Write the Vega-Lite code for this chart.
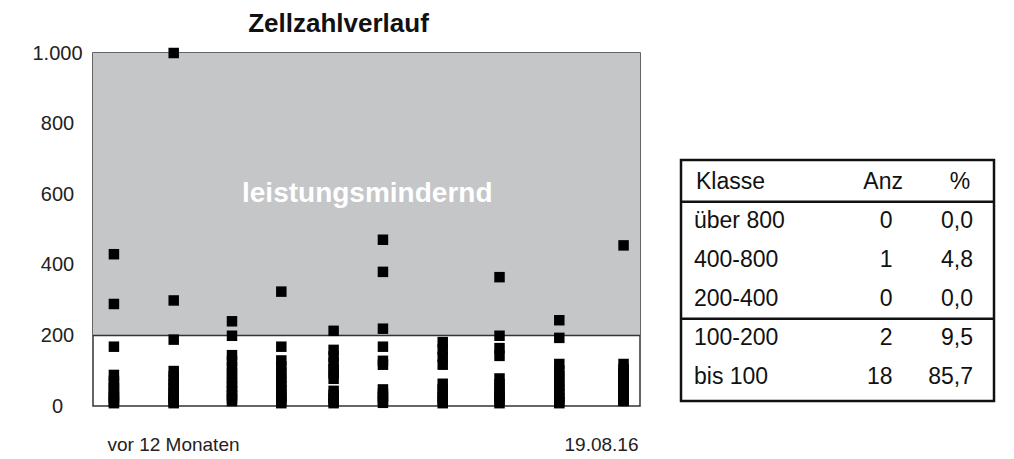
{
  "$schema": "https://vega.github.io/schema/vega-lite/v6.json",
  "padding": {"left": 31, "top": 10, "right": 5, "bottom": 5},
  "background": "white",
  "config": {"font": "Liberation Sans", "view": {"stroke": null}},
  "spacing": 36,
  "datasets": {
    "zone": [{"lo": 200, "hi": 1000, "label": "leistungsmindernd"}],
    "points": [
      {"date": "2015-09-02", "cells": 430}, {"date": "2015-09-02", "cells": 289}, {"date": "2015-09-02", "cells": 168},
      {"date": "2015-09-02", "cells": 88}, {"date": "2015-09-02", "cells": 71}, {"date": "2015-09-02", "cells": 63},
      {"date": "2015-09-02", "cells": 50}, {"date": "2015-09-02", "cells": 41}, {"date": "2015-09-02", "cells": 33},
      {"date": "2015-09-02", "cells": 25}, {"date": "2015-09-02", "cells": 18}, {"date": "2015-09-02", "cells": 12},
      {"date": "2015-09-02", "cells": 8},
      {"date": "2015-10-12", "cells": 1000}, {"date": "2015-10-12", "cells": 299}, {"date": "2015-10-12", "cells": 188},
      {"date": "2015-10-12", "cells": 99}, {"date": "2015-10-12", "cells": 84}, {"date": "2015-10-12", "cells": 72},
      {"date": "2015-10-12", "cells": 60}, {"date": "2015-10-12", "cells": 51}, {"date": "2015-10-12", "cells": 40},
      {"date": "2015-10-12", "cells": 32}, {"date": "2015-10-12", "cells": 24}, {"date": "2015-10-12", "cells": 17},
      {"date": "2015-10-12", "cells": 11}, {"date": "2015-10-12", "cells": 8},
      {"date": "2015-11-20", "cells": 240}, {"date": "2015-11-20", "cells": 199}, {"date": "2015-11-20", "cells": 144},
      {"date": "2015-11-20", "cells": 128}, {"date": "2015-11-20", "cells": 110}, {"date": "2015-11-20", "cells": 95},
      {"date": "2015-11-20", "cells": 80}, {"date": "2015-11-20", "cells": 66}, {"date": "2015-11-20", "cells": 54},
      {"date": "2015-11-20", "cells": 42}, {"date": "2015-11-20", "cells": 31}, {"date": "2015-11-20", "cells": 22},
      {"date": "2015-11-20", "cells": 14},
      {"date": "2015-12-23", "cells": 324}, {"date": "2015-12-23", "cells": 168}, {"date": "2015-12-23", "cells": 129},
      {"date": "2015-12-23", "cells": 112}, {"date": "2015-12-23", "cells": 96}, {"date": "2015-12-23", "cells": 81},
      {"date": "2015-12-23", "cells": 68}, {"date": "2015-12-23", "cells": 55}, {"date": "2015-12-23", "cells": 43},
      {"date": "2015-12-23", "cells": 33}, {"date": "2015-12-23", "cells": 24}, {"date": "2015-12-23", "cells": 15},
      {"date": "2015-12-23", "cells": 8},
      {"date": "2016-01-27", "cells": 213}, {"date": "2016-01-27", "cells": 159}, {"date": "2016-01-27", "cells": 140},
      {"date": "2016-01-27", "cells": 122}, {"date": "2016-01-27", "cells": 105}, {"date": "2016-01-27", "cells": 92},
      {"date": "2016-01-27", "cells": 77}, {"date": "2016-01-27", "cells": 43}, {"date": "2016-01-27", "cells": 31},
      {"date": "2016-01-27", "cells": 22}, {"date": "2016-01-27", "cells": 14}, {"date": "2016-01-27", "cells": 8},
      {"date": "2016-02-29", "cells": 471}, {"date": "2016-02-29", "cells": 380}, {"date": "2016-02-29", "cells": 219},
      {"date": "2016-02-29", "cells": 168}, {"date": "2016-02-29", "cells": 128}, {"date": "2016-02-29", "cells": 117},
      {"date": "2016-02-29", "cells": 47}, {"date": "2016-02-29", "cells": 35}, {"date": "2016-02-29", "cells": 26},
      {"date": "2016-02-29", "cells": 17}, {"date": "2016-02-29", "cells": 9},
      {"date": "2016-04-09", "cells": 181}, {"date": "2016-04-09", "cells": 160}, {"date": "2016-04-09", "cells": 139},
      {"date": "2016-04-09", "cells": 117}, {"date": "2016-04-09", "cells": 63}, {"date": "2016-04-09", "cells": 48},
      {"date": "2016-04-09", "cells": 36}, {"date": "2016-04-09", "cells": 25}, {"date": "2016-04-09", "cells": 16},
      {"date": "2016-04-09", "cells": 8},
      {"date": "2016-05-17", "cells": 365}, {"date": "2016-05-17", "cells": 199}, {"date": "2016-05-17", "cells": 164},
      {"date": "2016-05-17", "cells": 142}, {"date": "2016-05-17", "cells": 78}, {"date": "2016-05-17", "cells": 62},
      {"date": "2016-05-17", "cells": 49}, {"date": "2016-05-17", "cells": 37}, {"date": "2016-05-17", "cells": 27},
      {"date": "2016-05-17", "cells": 17}, {"date": "2016-05-17", "cells": 8},
      {"date": "2016-06-26", "cells": 243}, {"date": "2016-06-26", "cells": 193}, {"date": "2016-06-26", "cells": 119},
      {"date": "2016-06-26", "cells": 101}, {"date": "2016-06-26", "cells": 86}, {"date": "2016-06-26", "cells": 72},
      {"date": "2016-06-26", "cells": 58}, {"date": "2016-06-26", "cells": 45}, {"date": "2016-06-26", "cells": 33},
      {"date": "2016-06-26", "cells": 22}, {"date": "2016-06-26", "cells": 13}, {"date": "2016-06-26", "cells": 8},
      {"date": "2016-08-08", "cells": 455}, {"date": "2016-08-08", "cells": 119}, {"date": "2016-08-08", "cells": 105},
      {"date": "2016-08-08", "cells": 95}, {"date": "2016-08-08", "cells": 90}, {"date": "2016-08-08", "cells": 82},
      {"date": "2016-08-08", "cells": 76}, {"date": "2016-08-08", "cells": 70}, {"date": "2016-08-08", "cells": 63},
      {"date": "2016-08-08", "cells": 57}, {"date": "2016-08-08", "cells": 51}, {"date": "2016-08-08", "cells": 46},
      {"date": "2016-08-08", "cells": 41}, {"date": "2016-08-08", "cells": 36}, {"date": "2016-08-08", "cells": 31},
      {"date": "2016-08-08", "cells": 27}, {"date": "2016-08-08", "cells": 24}, {"date": "2016-08-08", "cells": 21},
      {"date": "2016-08-08", "cells": 18}, {"date": "2016-08-08", "cells": 16}, {"date": "2016-08-08", "cells": 14}
    ],
    "table": [
      {"row": 0, "klasse": "Klasse", "anz": "Anz", "pct": "%"},
      {"row": 1, "klasse": "über 800", "anz": "0", "pct": "0,0"},
      {"row": 2, "klasse": "400-800", "anz": "1", "pct": "4,8"},
      {"row": 3, "klasse": "200-400", "anz": "0", "pct": "0,0"},
      {"row": 4, "klasse": "100-200", "anz": "2", "pct": "9,5"},
      {"row": 5, "klasse": "bis 100", "anz": "18", "pct": "85,7"}
    ],
    "lines": [{"row": 1, "kind": "Kopf"}, {"row": 4, "kind": "Grenze 200"}]
  },
  "hconcat": [
    {
      "width": 547,
      "height": 353,
      "title": {"text": "Zellzahlverlauf", "fontSize": 26, "fontWeight": "bold", "color": "#111", "anchor": "middle", "dx": -28, "offset": 6},
      "view": {"stroke": "#333", "strokeWidth": 1.5},
      "layer": [
        {
          "data": {"name": "zone"},
          "mark": {"type": "rect", "color": "#c5c6c8"},
          "encoding": {
            "x": {"datum": {"year": 2015, "month": 8, "date": 19}, "type": "temporal"},
            "x2": {"datum": {"year": 2016, "month": 8, "date": 19}},
            "y": {"field": "lo", "type": "quantitative"},
            "y2": {"field": "hi"}
          }
        },
        {
          "data": {"name": "zone"},
          "mark": {"type": "rule", "color": "#333", "strokeWidth": 1.5},
          "encoding": {"y": {"field": "lo", "type": "quantitative"}}
        },
        {
          "data": {"name": "zone"},
          "mark": {"type": "text", "color": "white", "fontSize": 28, "fontWeight": "bold"},
          "encoding": {
            "x": {"datum": {"year": 2016, "month": 2, "date": 18, "hours": 12}, "type": "temporal"},
            "y": {"datum": 600, "type": "quantitative"},
            "text": {"field": "label"}
          }
        },
        {
          "data": {"name": "points"},
          "mark": {"type": "square", "size": 110, "color": "black", "opacity": 1},
          "encoding": {
            "x": {
              "field": "date", "type": "temporal",
              "scale": {"domain": [{"year": 2015, "month": 8, "date": 19}, {"year": 2016, "month": 8, "date": 19}]},
              "axis": {
                "title": null, "domain": false, "ticks": false, "tickSize": 0, "grid": false,
                "values": [{"year": 2015, "month": 8, "date": 19}, {"year": 2016, "month": 8, "date": 19}],
                "labelExpr": "year(datum.value) == 2015 ? 'vor 12 Monaten' : '19.08.16'",
                "labelFlush": false,
                "labelAlign": {"condition": {"test": "year(datum.value) == 2015", "value": "left"}, "value": "right"},
                "labelOffset": {"condition": {"test": "year(datum.value) == 2015", "value": 14}, "value": -2},
                "labelFontSize": 19, "labelColor": "#222", "labelPadding": 29
              }
            },
            "y": {
              "field": "cells", "type": "quantitative",
              "scale": {"domain": [0, 1000], "nice": false},
              "axis": {
                "title": null, "domain": false, "ticks": false, "tickSize": 0, "grid": false,
                "values": [0, 200, 400, 600, 800, 1000],
                "labelExpr": "datum.value == 1000 ? '1.000' : datum.label",
                "labelAlign": "center", "labelPadding": 36,
                "labelFontSize": 20, "labelColor": "#222"
              }
            }
          }
        }
      ]
    },
    {
      "spacing": 20,
      "vconcat": [
        {
          "width": 313,
          "height": 85,
          "data": {"values": []},
          "mark": "point"
        },
        {
          "width": 313,
          "height": 241,
          "view": {"stroke": "#111", "strokeWidth": 2.5},
          "data": {"name": "table"},
          "encoding": {
            "y": {"field": "row", "type": "ordinal", "scale": {"type": "band", "domain": [0, 1, 2, 3, 4, 5], "range": [2.7, 236.7], "paddingInner": 0, "paddingOuter": 0}, "axis": null}
          },
          "layer": [
            {
              "transform": [{"filter": "datum.row == 0"}],
              "mark": {"type": "text", "align": "left", "dx": 15, "fontSize": 23, "color": "#111"},
              "encoding": {
                "x": {"datum": "Klasse", "type": "nominal", "bandPosition": 0, "scale": {"type": "band", "domain": ["Klasse", "Anz", "%"], "paddingInner": 0, "paddingOuter": 0}, "axis": null},
                "text": {"field": "klasse"}
              }
            },
            {
              "transform": [{"filter": "datum.row == 0"}],
              "mark": {"type": "text", "align": "center", "dx": -6.5, "fontSize": 23, "color": "#111"},
              "encoding": {
                "x": {"datum": "Anz", "type": "nominal", "bandPosition": 1},
                "text": {"field": "anz"}
              }
            },
            {
              "transform": [{"filter": "datum.row == 0"}],
              "mark": {"type": "text", "align": "center", "dx": -34, "fontSize": 23, "color": "#111"},
              "encoding": {
                "x": {"datum": "%", "type": "nominal", "bandPosition": 1},
                "text": {"field": "pct"}
              }
            },
            {
              "transform": [{"filter": "datum.row > 0"}],
              "mark": {"type": "text", "align": "left", "dx": 13, "fontSize": 23, "color": "#111"},
              "encoding": {
                "x": {"datum": "Klasse", "type": "nominal", "bandPosition": 0},
                "text": {"field": "klasse"}
              }
            },
            {
              "transform": [{"filter": "datum.row > 0"}],
              "mark": {"type": "text", "align": "right", "dx": 3, "fontSize": 23, "color": "#111"},
              "encoding": {
                "x": {"datum": "Anz", "type": "nominal", "bandPosition": 1},
                "text": {"field": "anz"}
              }
            },
            {
              "transform": [{"filter": "datum.row > 0"}],
              "mark": {"type": "text", "align": "right", "dx": -21, "fontSize": 23, "color": "#111"},
              "encoding": {
                "x": {"datum": "%", "type": "nominal", "bandPosition": 1},
                "text": {"field": "pct"}
              }
            },
            {
              "data": {"name": "lines"},
              "mark": {"type": "rule", "strokeWidth": 2.5, "color": "#111"},
              "encoding": {"y": {"field": "row", "type": "ordinal", "bandPosition": 0}}
            }
          ]
        }
      ]
    }
  ]
}
